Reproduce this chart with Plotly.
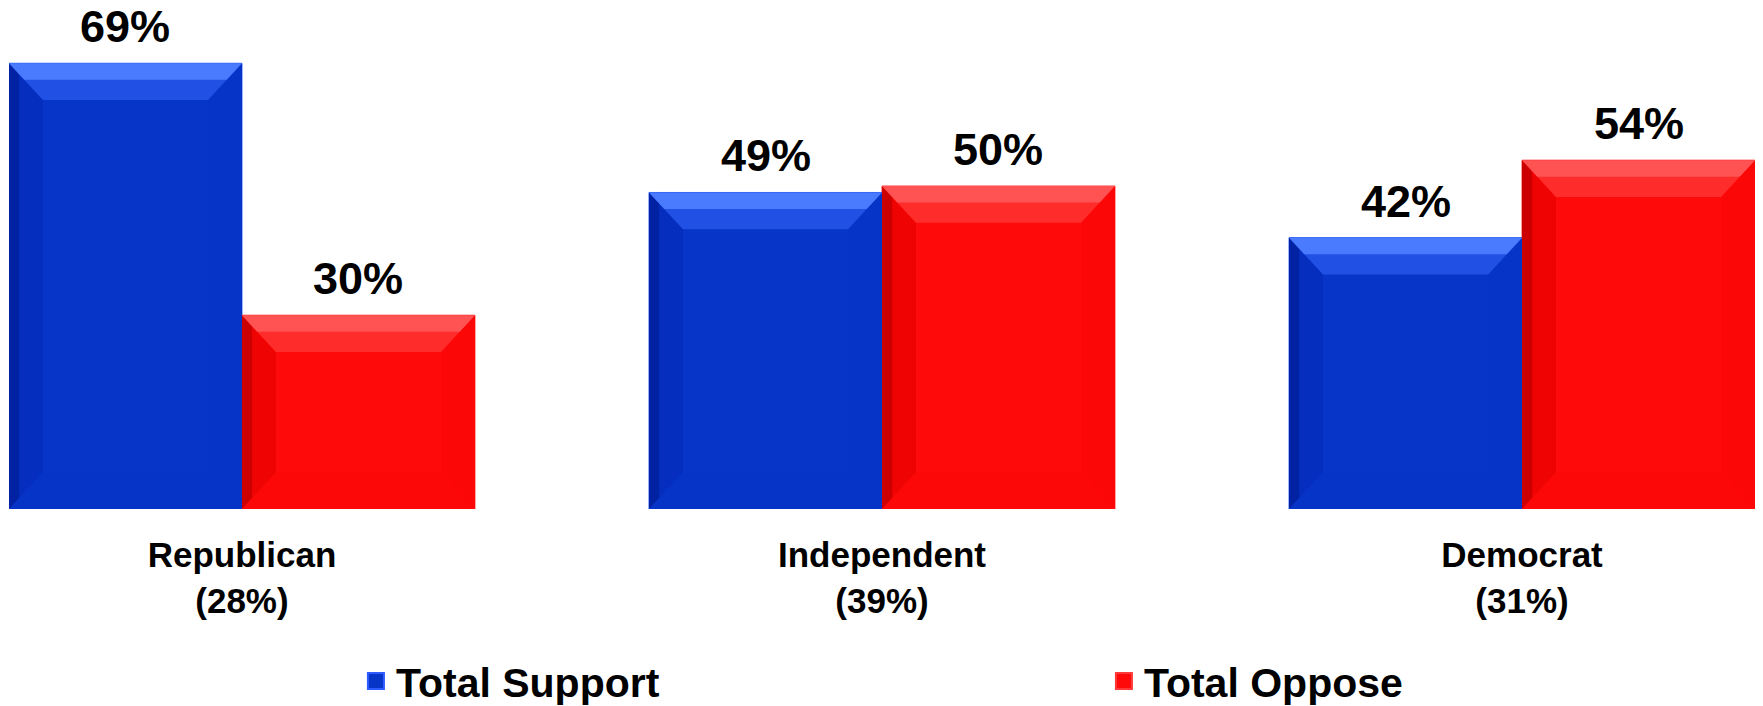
import plotly.graph_objects as go

categories = ["Republican<br>(28%)", "Independent<br>(39%)", "Democrat<br>(31%)"]
series_names = ["Total Support", "Total Oppose"]
support = [69, 49, 42]
oppose = [30, 50, 54]

FONT = "Liberation Sans, Arial, sans-serif"
face = {"Total Support": "#0735C8", "Total Oppose": "#FF0A0A"}
top_light = {"Total Support": "#4A7BFF", "Total Oppose": "#FF5252"}
top_mid = {"Total Support": "#2050E4", "Total Oppose": "#FF2C2C"}
side_dark = {"Total Support": "#052EBE", "Total Oppose": "#F00303"}
edge_dark = {"Total Support": "#0222A4", "Total Oppose": "#CC0000"}
right_c = {"Total Support": "#0634C6", "Total Oppose": "#FC0707"}
bottom_c = {"Total Support": "#0634C6", "Total Oppose": "#FC0808"}
line_c = {"Total Support": "#2E5BFF", "Total Oppose": "#FF3A3A"}

bargap = 0.272
bar_w = (1 - bargap) / 2
xs = list(range(len(categories)))

fig = go.Figure()
legend_ids = ["legend", "legend2"]
for name, vals in zip(series_names, [support, oppose]):
    fig.add_trace(go.Bar(
        x=xs, y=vals, name=name, showlegend=False,
        marker=dict(color=face[name], line=dict(color=line_c[name], width=1)),
    ))
# legend keys (bevelled square look)
for name, lg in zip(series_names, legend_ids):
    fig.add_trace(go.Scatter(
        x=[None], y=[None], name=name, legend=lg, mode="markers",
        marker=dict(symbol="square", size=16, color=face[name],
                    line=dict(color=line_c[name], width=2)),
    ))

# bevel shading shapes, derived from the data
dx = 0.053
dy = 5.7
shapes = []
annotations = []


def p(pts):
    return "M" + "L".join(f"{a},{b}" for a, b in pts) + "Z"


for si, (name, vals) in enumerate(zip(series_names, [support, oppose])):
    for i, v in enumerate(vals):
        x0 = i - bar_w + si * bar_w
        x1 = x0 + bar_w
        # left band
        shapes.append(dict(type="path", xref="x", yref="y", layer="above",
                           path=p([(x0, 0), (x0, v), (x0 + dx, v - dy), (x0 + dx, dy)]),
                           fillcolor=side_dark[name], line=dict(width=0)))
        shapes.append(dict(type="path", xref="x", yref="y", layer="above",
                           path=p([(x0, 0), (x0, v), (x0 + dx * 0.3, v - dy * 0.3), (x0 + dx * 0.3, dy * 0.3)]),
                           fillcolor=edge_dark[name], line=dict(width=0)))
        # right band
        shapes.append(dict(type="path", xref="x", yref="y", layer="above",
                           path=p([(x1, 0), (x1, v), (x1 - dx, v - dy), (x1 - dx, dy)]),
                           fillcolor=right_c[name], line=dict(width=0)))
        # bottom band
        shapes.append(dict(type="path", xref="x", yref="y", layer="above",
                           path=p([(x0, 0), (x1, 0), (x1 - dx, dy), (x0 + dx, dy)]),
                           fillcolor=bottom_c[name], line=dict(width=0)))
        # top band
        shapes.append(dict(type="path", xref="x", yref="y", layer="above",
                           path=p([(x0, v), (x1, v), (x1 - dx, v - dy), (x0 + dx, v - dy)]),
                           fillcolor=top_mid[name], line=dict(width=0)))
        shapes.append(dict(type="path", xref="x", yref="y", layer="above",
                           path=p([(x0, v), (x1, v), (x1 - dx * 0.45, v - dy * 0.45), (x0 + dx * 0.45, v - dy * 0.45)]),
                           fillcolor=top_light[name], line=dict(width=0)))
        annotations.append(dict(x=(x0 + x1) / 2, y=v, xref="x", yref="y",
                                text=f"{v}%", showarrow=False, yanchor="bottom",
                                yshift=9,
                                font=dict(family=FONT, size=45, color="black", weight="bold")))

legend_font = dict(family=FONT, size=41, color="black", weight="bold")
fig.update_layout(
    width=1763, height=706,
    margin=dict(l=1, r=16, t=12, b=205, autoexpand=False),
    paper_bgcolor="white", plot_bgcolor="white",
    barmode="group", bargap=bargap, bargroupgap=0,
    shapes=shapes, annotations=annotations,
    showlegend=True,
    legend=dict(orientation="h", x=0.1987, xanchor="left", y=-0.284, yanchor="top",
                font=legend_font, bgcolor="rgba(0,0,0,0)", itemsizing="trace"),
    legend2=dict(orientation="h", x=0.6271, xanchor="left", y=-0.284, yanchor="top",
                 font=legend_font, bgcolor="rgba(0,0,0,0)", itemsizing="trace"),
    xaxis=dict(range=[-0.364, 2.364], tickvals=xs, ticktext=categories,
               showgrid=False, zeroline=False, showline=False, ticks="",
               ticklabelstandoff=22,
               tickfont=dict(family=FONT, size=35, color="black", weight="bold")),
    yaxis=dict(range=[0, 75.7], visible=False, showgrid=False, zeroline=False),
)

fig.write_html("out.html")
